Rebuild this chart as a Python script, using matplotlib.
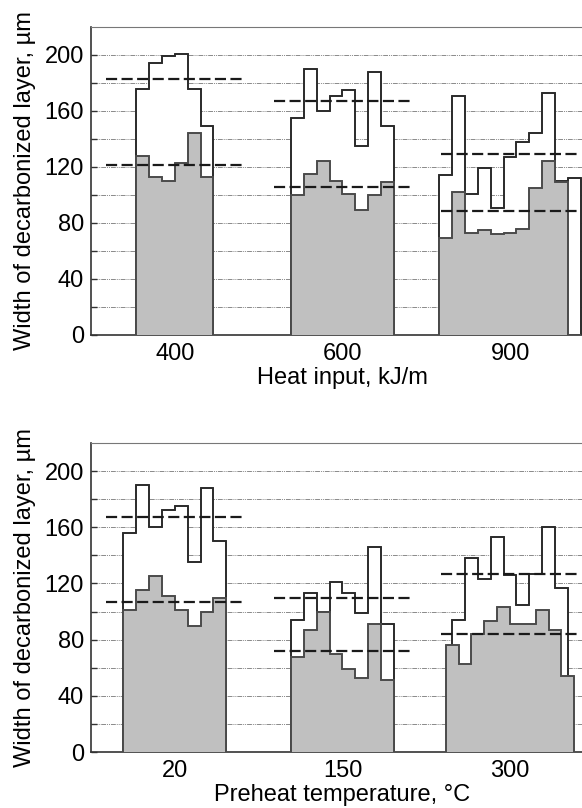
import numpy as np
import matplotlib
matplotlib.use("Agg")
import matplotlib.pyplot as plt

plt.rcParams['font.family'] = ['Liberation Sans', 'DejaVu Sans']

# top panel: heat input
heat_labels = ['400', '600', '900']
heat_white = [
    [176, 194, 199, 201, 176, 149],
    [155, 190, 160, 171, 175, 135, 188, 149],
    [114, 171, 101, 119, 91, 127, 138, 144, 173, 110, 112],
]
heat_gray = [
    [128, 113, 110, 123, 144, 113],
    [100, 115, 124, 110, 101, 89, 100, 109],
    [69, 102, 73, 75, 72, 73, 76, 105, 124, 109, 0],
]
heat_mean_white = [183, 167, 129]
heat_mean_gray = [121.5, 106, 88.5]

# bottom panel: preheat temperature
pre_labels = ['20', '150', '300']
pre_white = [
    [156, 190, 160, 172, 175, 135, 188, 150],
    [94, 113, 100, 121, 113, 99, 146, 91],
    [94, 138, 123, 153, 126, 105, 127, 160, 117],
]
pre_gray = [
    [101, 115, 125, 111, 101, 90, 100, 110],
    [68, 87, 100, 70, 59, 53, 91, 51],
    [76, 63, 84, 93, 103, 91, 91, 101, 87, 54],
]
pre_mean_white = [167, 110, 127]
pre_mean_gray = [106.5, 72, 84]

W = 0.0767  # bin width in group units
HALF = 0.41  # half length of dashed mean lines
FS = 17


def panel(ax, labels, white, gray, mw, mg, xlabel):
    for i in range(len(labels)):
        for vals, fc, ec, z in [(white[i], 'white', '#2a2a2a', 2),
                                (gray[i], '#c0c0c0', '#4a4a4a', 3)]:
            n = len(vals)
            edges = i - n * W / 2 + W * np.arange(n + 1)
            ax.stairs(vals, edges, baseline=0, fill=True, facecolor=fc,
                      edgecolor=ec, linewidth=1.2, zorder=z)
            ax.stairs(vals, edges, baseline=0, fill=False, color=ec,
                      linewidth=1.2, zorder=z)
        ax.hlines([mw[i], mg[i]], i - HALF, i + HALF, colors='#1a1a1a',
                  linestyles=(0, (5, 2)), linewidth=1.6, zorder=4)
    ax.set_xlim(-0.5, 2.5)
    ax.set_ylim(0, 220)
    ax.set_xticks(range(len(labels)))
    ax.set_xticklabels(labels)
    ax.set_yticks(np.arange(0, 201, 40))
    ax.set_yticks(np.arange(20, 201, 40), minor=True)
    for y in np.arange(20, 201, 20):
        ax.axhline(y, color='#8a8a8a', linestyle=(0, (5, 1, 1, 1, 1, 1)),
                   linewidth=0.7, zorder=0)
    ax.tick_params(axis='x', length=0, pad=6, labelsize=FS)
    ax.tick_params(axis='y', which='both', direction='in', length=4,
                   width=1, pad=5, labelsize=FS, color='#333')
    ax.set_ylabel('Width of decarbonized layer, µm', fontsize=FS, labelpad=6)
    ax.set_xlabel(xlabel, fontsize=FS, labelpad=1)
    ax.spines['right'].set_visible(False)
    ax.spines['top'].set_color('#777')
    for s in ['left', 'bottom']:
        ax.spines[s].set_color('#333')
        ax.spines[s].set_linewidth(1.2)


fig = plt.figure(figsize=(5.82, 8.08), dpi=100)
ax1 = fig.add_axes([0.1564, 0.5854, 0.864, 0.3812])
ax2 = fig.add_axes([0.1564, 0.0693, 0.864, 0.3824])

panel(ax1, heat_labels, heat_white, heat_gray, heat_mean_white,
      heat_mean_gray, 'Heat input, kJ/m')
panel(ax2, pre_labels, pre_white, pre_gray, pre_mean_white,
      pre_mean_gray, 'Preheat temperature, °C')

fig.savefig('out.png', dpi=100)
